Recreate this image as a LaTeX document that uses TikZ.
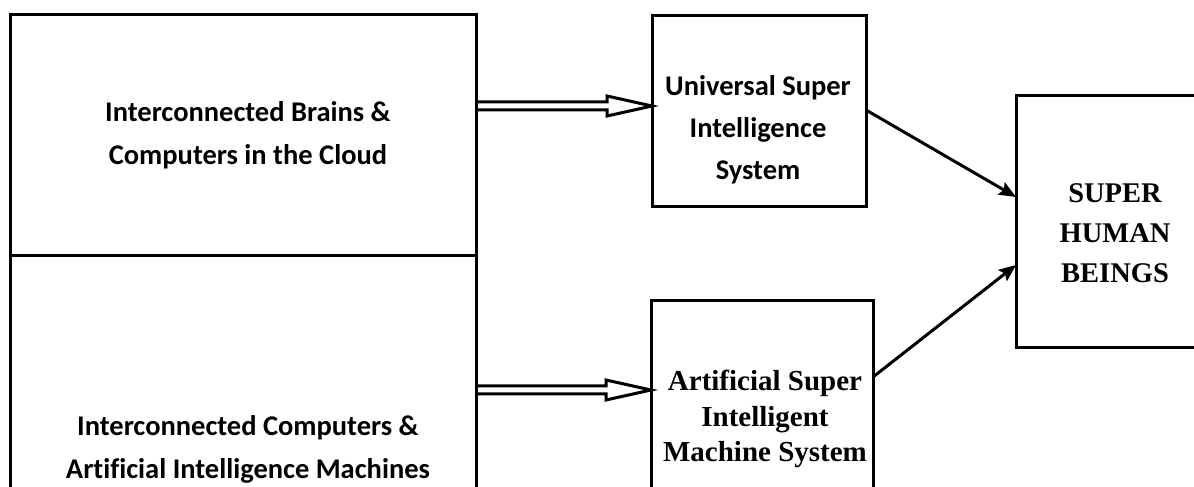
\documentclass[tikz,border=0pt]{standalone}
\usepackage{fontspec}
\newfontfamily\carlitofont[Ligatures=NoCommon]{Carlito}
\newfontfamily\timesfont[Ligatures=NoCommon]{Liberation Serif}
\usetikzlibrary{arrows.meta,positioning}
\tikzset{
    %Define standard arrow tip
    >={Stealth[length=17pt,width=14pt,inset=3pt]},
    %Define style for boxes
    plainbox/.style={
           rectangle,
           draw=black, line width=3pt,
           outer sep=0pt,
           inner sep=0pt},
    sanstext/.style={
           align=center,
           font=\carlitofont\bfseries\fontsize{28.5}{43}\selectfont},
    seriftext/.style={
           align=center,
           font=\timesfont\bfseries\fontsize{29}{35.5}\selectfont},
    % Define arrow styles
    hollow/.style={
           draw=black, line width=3pt,
           line join=miter},
    pil/.style={
           ->,
           line width=3pt}
}

\begin{document}
\begin{tikzpicture}[x=1pt,y=1pt]
\useasboundingbox (0,0) rectangle (1194,487);
 %boxes
\node[plainbox, minimum width=466pt, minimum height=241pt] (brains) at (243,351.5) {};
\node[plainbox, minimum width=466pt, minimum height=386pt, below=0pt of brains] (computers) {};
\node[plainbox, minimum width=214pt, minimum height=191pt] (universal) at (759,375.5) {};
\node[plainbox, minimum width=222pt, minimum height=232pt] (artificial) at (762,70) {};
\node[plainbox, minimum width=198pt, minimum height=252pt] (super) at (1115,265) {};
 %texts
\node[sanstext] (brainstext) at (248,352) {Interconnected Brains \&\\Computers in the Cloud};
\node[sanstext] (computerstext) at (248,37.5) {Interconnected Computers \&\\Artificial Intelligence Machines};
\node[sanstext, font=\carlitofont\bfseries\fontsize{28.5}{42}\selectfont] (universaltext) at (758,357) {Universal Super\\Intelligence\\System};
\node[seriftext] (artificialtext) at (765,68) {Artificial Super\\Intelligent\\Machine System};
\node[seriftext, font=\timesfont\bfseries\fontsize{28.5}{40}\selectfont] (supertext) at (1115,254) {SUPER\\HUMAN\\BEINGS};
 %hollow arrows
\coordinate (tip1) at ([yshift=5.5pt]universal.west);
\coordinate (tail1) at (brains.east |- tip1);
\coordinate (tip2) at ([yshift=27pt]artificial.west);
\coordinate (tail2) at (computers.east |- tip2);
\draw[hollow] ([yshift=4pt]tail1) -- ([xshift=-45pt,yshift=4pt]tip1) -- ([xshift=-45pt,yshift=10pt]tip1)
    -- (tip1) -- ([xshift=-45pt,yshift=-10pt]tip1) -- ([xshift=-45pt,yshift=-4pt]tip1) -- ([yshift=-4pt]tail1);
\draw[hollow] ([yshift=4pt]tail2) -- ([xshift=-45pt,yshift=4pt]tip2) -- ([xshift=-45pt,yshift=10pt]tip2)
    -- (tip2) -- ([xshift=-45pt,yshift=-10pt]tip2) -- ([xshift=-45pt,yshift=-4pt]tip2) -- ([yshift=-4pt]tail2);
 %arrows
\draw[pil] ([yshift=1.5pt]universal.east) -- ([yshift=25pt]super.west);
\draw[pil] ([yshift=40pt]artificial.east) -- ([yshift=-43pt]super.west);
\end{tikzpicture}
\end{document}
